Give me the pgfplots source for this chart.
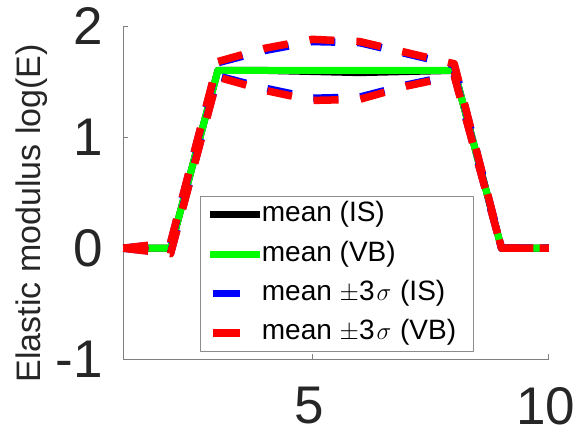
\documentclass[border=0pt]{standalone}
\usepackage{fontspec}
\setmainfont{Liberation Sans}
\usepackage{pgfplots}
\pgfplotsset{compat=1.18}
\definecolor{axgray}{RGB}{38,38,38}
\definecolor{mgreen}{RGB}{0,255,0}
\pgfplotsset{
 solidleg/.style={legend image code/.code={\draw[##1,overlay] (-7.5pt,0pt) -- (42.5pt,0pt); \path[draw=none] (0pt,0pt) -- (44.5pt,0pt);}},
 dashleg/.style={legend image code/.code={\draw[##1,solid,overlay] (-4.5pt,0pt) -- (22.5pt,0pt); \path[draw=none] (0pt,0pt) -- (44.5pt,0pt);}},
}
\begin{document}
\begin{tikzpicture}
\useasboundingbox (-123.3pt,-74.7pt) rectangle (453.7pt,359.3pt);
\begin{axis}[
 at={(0pt,0pt)}, anchor=south west,
 scale only axis, width=425.5pt, height=333.3pt,
 xmin=1, xmax=10, ymin=-1, ymax=2,
 axis x line*=bottom, axis y line*=left,
 axis line style={black!50, line width=0.8pt, -},
 x axis line style={-}, y axis line style={-},
 xtick={5,10}, ytick={-1,0,1,2},
 xticklabels={5,10}, yticklabels={-1,0,1,2},
 tick align=inside, major tick length=5pt,
 tick style={black!50, line width=0.8pt},
 ticklabel style={font=\fontsize{53}{53}\selectfont, text=axgray, inner sep=0pt},
 xticklabel style={anchor=north, xshift=-3pt}, xticklabel shift=27.5pt,
 yticklabel style={anchor=east}, yticklabel shift=20pt,
 ylabel={Elastic modulus log(E)},
 ylabel style={font=\fontsize{34}{34}\selectfont, text=axgray, inner sep=0pt,
   at={(axis description cs:-0.215,0.438)}, anchor=center},
 clip=false,
 legend cell align=left,
 legend style={at={(rel axis cs:0.180,0.490)}, anchor=north west,
   draw=black!45, line width=0.8pt, fill=white, inner sep=2.5pt,
   minimum width=273pt,
   font=\fontsize{28}{28}\selectfont, row sep=7.3pt, column sep=0pt,
   nodes={inner sep=0pt, text height=23pt, text depth=9pt, minimum width=0pt}},
 line join=round,
]
\addplot[black, line width=7pt, solidleg]
 coordinates {(1,0) (2,0) (3,1.6) (4,1.6) (5,1.59) (6,1.58) (7,1.59) (8,1.6) (9,0) (10,0)};
\addlegendentry{mean (IS)}
\addplot[mgreen, line width=7pt, solidleg]
 coordinates {(1,0) (2,0) (3,1.6) (4,1.6) (5,1.6) (6,1.6) (7,1.6) (8,1.6) (9,0) (10,0)};
\addlegendentry{mean (VB)}
\addplot[blue, line width=7.5pt, dash pattern=on 25pt off 22pt, dashleg]
 coordinates {(1,0) (2,0.045) (3,1.67) (4,1.78) (5,1.86) (6,1.85) (7,1.75) (8,1.65) (9,0) (10,0)};
\addlegendentry{mean $\pm$3\hspace{2pt}$\sigma$\hspace{1pt} (IS)}
\addplot[blue, line width=7.5pt, dash pattern=on 25pt off 22pt, forget plot]
 coordinates {(1,0) (2,-0.045) (3,1.55) (4,1.44) (5,1.35) (6,1.36) (7,1.47) (8,1.56) (9,0) (10,0)};
\addplot[red, line width=7.5pt, dash pattern=on 25pt off 22pt, dashleg]
 coordinates {(1,0) (2,0.05) (3,1.68) (4,1.80) (5,1.88) (6,1.86) (7,1.76) (8,1.66) (9,0) (10,0)};
\addlegendentry{mean $\pm$3\hspace{2pt}$\sigma$\hspace{1pt} (VB)}
\addplot[red, line width=7.5pt, dash pattern=on 25pt off 22pt, forget plot]
 coordinates {(1,0) (2,-0.05) (3,1.54) (4,1.42) (5,1.33) (6,1.34) (7,1.46) (8,1.55) (9,0) (10,0)};
\end{axis}
\end{tikzpicture}
\end{document}
